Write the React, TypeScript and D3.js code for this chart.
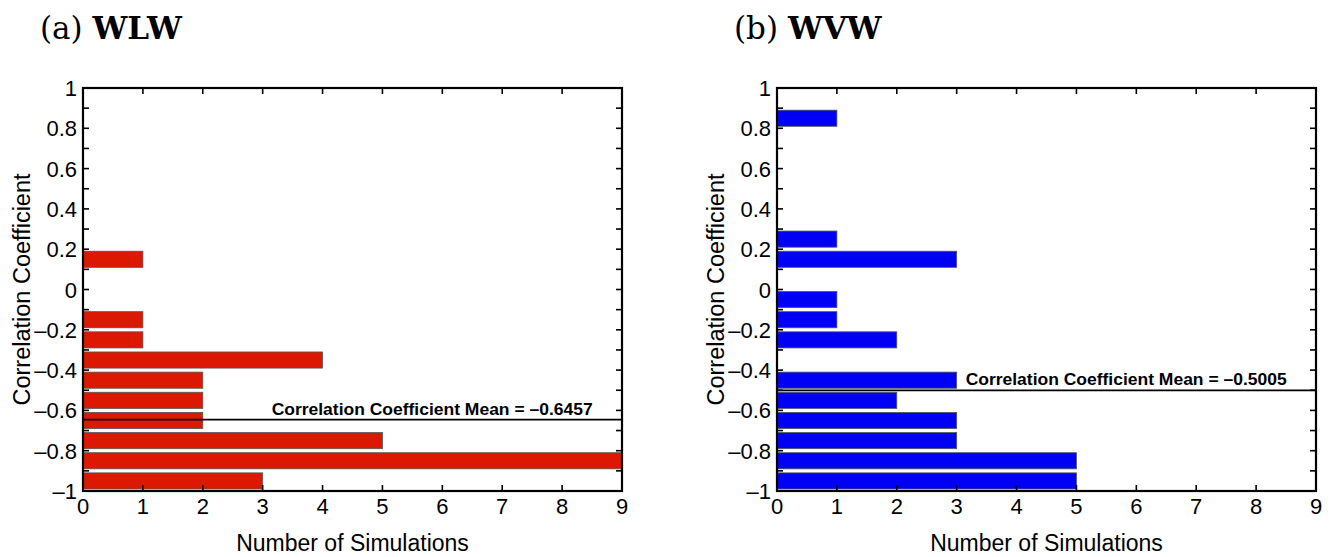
import React from "react";
import * as d3 from "d3";

// histogram bin centres (bin width 0.1)
const binCenters = [
  -0.95, -0.85, -0.75, -0.65, -0.55, -0.45, -0.35, -0.25, -0.15, -0.05,
  0.05, 0.15, 0.25, 0.35, 0.45, 0.55, 0.65, 0.75, 0.85, 0.95,
];
const wlwCounts = [3, 9, 5, 2, 2, 2, 4, 1, 1, 0, 0, 1, 0, 0, 0, 0, 0, 0, 0, 0];
const wvwCounts = [5, 5, 3, 3, 2, 3, 0, 2, 1, 1, 0, 3, 1, 0, 0, 0, 0, 0, 1, 0];
const wlwMean = -0.6457;
const wvwMean = -0.5005;

const xTicks = [0, 1, 2, 3, 4, 5, 6, 7, 8, 9];
const yTicks = d3.range(-10, 11).map((d) => d / 10); // every 0.1
const yLabels = [-1, -0.8, -0.6, -0.4, -0.2, 0, 0.2, 0.4, 0.6, 0.8, 1];

const sans = "'Liberation Sans', Arial, Helvetica, sans-serif";
const fmt = (v: number) => {
  const s = String(Math.abs(v));
  return v < 0 ? "\u2013" + s : s;
};

type PanelProps = {
  left: number;
  tag: string;
  name: string;
  counts: number[];
  mean: number;
  color: string;
};

const Panel = ({ left, tag, name, counts, mean, color }: PanelProps) => {
  const top = 88;
  const bottom = 491;
  const w = 539;
  const x = d3.scaleLinear().domain([0, 9]).range([left, left + w]);
  const y = d3.scaleLinear().domain([-1, 1]).range([bottom, top]);
  const barH = Math.abs(y(0) - y(0.08));
  const tick = 6;

  return (
    <g>
      {/* title */}
      <text x={left - 43} y={39} fontFamily="'DejaVu Serif', 'Liberation Serif', serif" fontSize={31}>
        <tspan>{tag} </tspan>
        <tspan fontWeight="bold">{name}</tspan>
      </text>

      {/* bars */}
      {counts.map((c, i) =>
        c > 0 ? (
          <rect
            key={i}
            x={x(0)}
            y={y(binCenters[i]) - barH / 2}
            width={x(c) - x(0)}
            height={barH}
            fill={color}
            stroke="#555"
            strokeWidth={0.8}
          />
        ) : null
      )}

      {/* mean line */}
      <line x1={x(0)} x2={x(9)} y1={y(mean)} y2={y(mean)} stroke="#000" strokeWidth={1.6} />
      <text
        x={x(3.15)}
        y={y(mean) - 5}
        fontFamily={sans}
        fontWeight="bold"
        fontSize={17}
        textLength={321}
        lengthAdjust="spacingAndGlyphs"
      >
        {"Correlation Coefficient Mean = " + fmt(mean)}
      </text>

      {/* ticks */}
      {yTicks.map((t, i) => (
        <g key={"y" + i}>
          <line x1={x(0)} x2={x(0) + tick} y1={y(t)} y2={y(t)} stroke="#000" strokeWidth={1.6} />
          <line x1={x(9)} x2={x(9) - tick} y1={y(t)} y2={y(t)} stroke="#000" strokeWidth={1.6} />
        </g>
      ))}
      {xTicks.map((t) => (
        <g key={"x" + t}>
          <line x1={x(t)} x2={x(t)} y1={bottom} y2={bottom - tick} stroke="#000" strokeWidth={1.6} />
          <line x1={x(t)} x2={x(t)} y1={top} y2={top + tick} stroke="#000" strokeWidth={1.6} />
        </g>
      ))}

      {/* frame */}
      <rect x={x(0)} y={top} width={w} height={bottom - top} fill="none" stroke="#000" strokeWidth={2.2} />

      {/* tick labels */}
      {yLabels.map((t) => (
        <text
          key={"yl" + t}
          x={x(0) - 6}
          y={y(t) + 8}
          textAnchor="end"
          fontFamily={sans}
          fontSize={22}
        >
          {fmt(t)}
        </text>
      ))}
      {xTicks.map((t) => (
        <text key={"xl" + t} x={x(t)} y={514} textAnchor="middle" fontFamily={sans} fontSize={22}>
          {t}
        </text>
      ))}

      {/* axis titles */}
      <text
        x={left + w / 2}
        y={551}
        textAnchor="middle"
        fontFamily={sans}
        fontSize={23}
      >
        Number of Simulations
      </text>
      <text
        transform={`translate(${left - 53},${(top + bottom) / 2}) rotate(-90)`}
        textAnchor="middle"
        fontFamily={sans}
        fontSize={23.5}
      >
        Correlation Coefficient
      </text>
    </g>
  );
};

const App = () => {
  return (
    <svg
      width={1330}
      height={557}
      style={{ position: "absolute", left: 0, top: 0, background: "#fff" }}
    >
      <Panel left={83} tag="(a)" name="WLW" counts={wlwCounts} mean={wlwMean} color="#dd1800" />
      <Panel left={777} tag="(b)" name="WVW" counts={wvwCounts} mean={wvwMean} color="#0000f5" />
    </svg>
  );
};

export default App;
